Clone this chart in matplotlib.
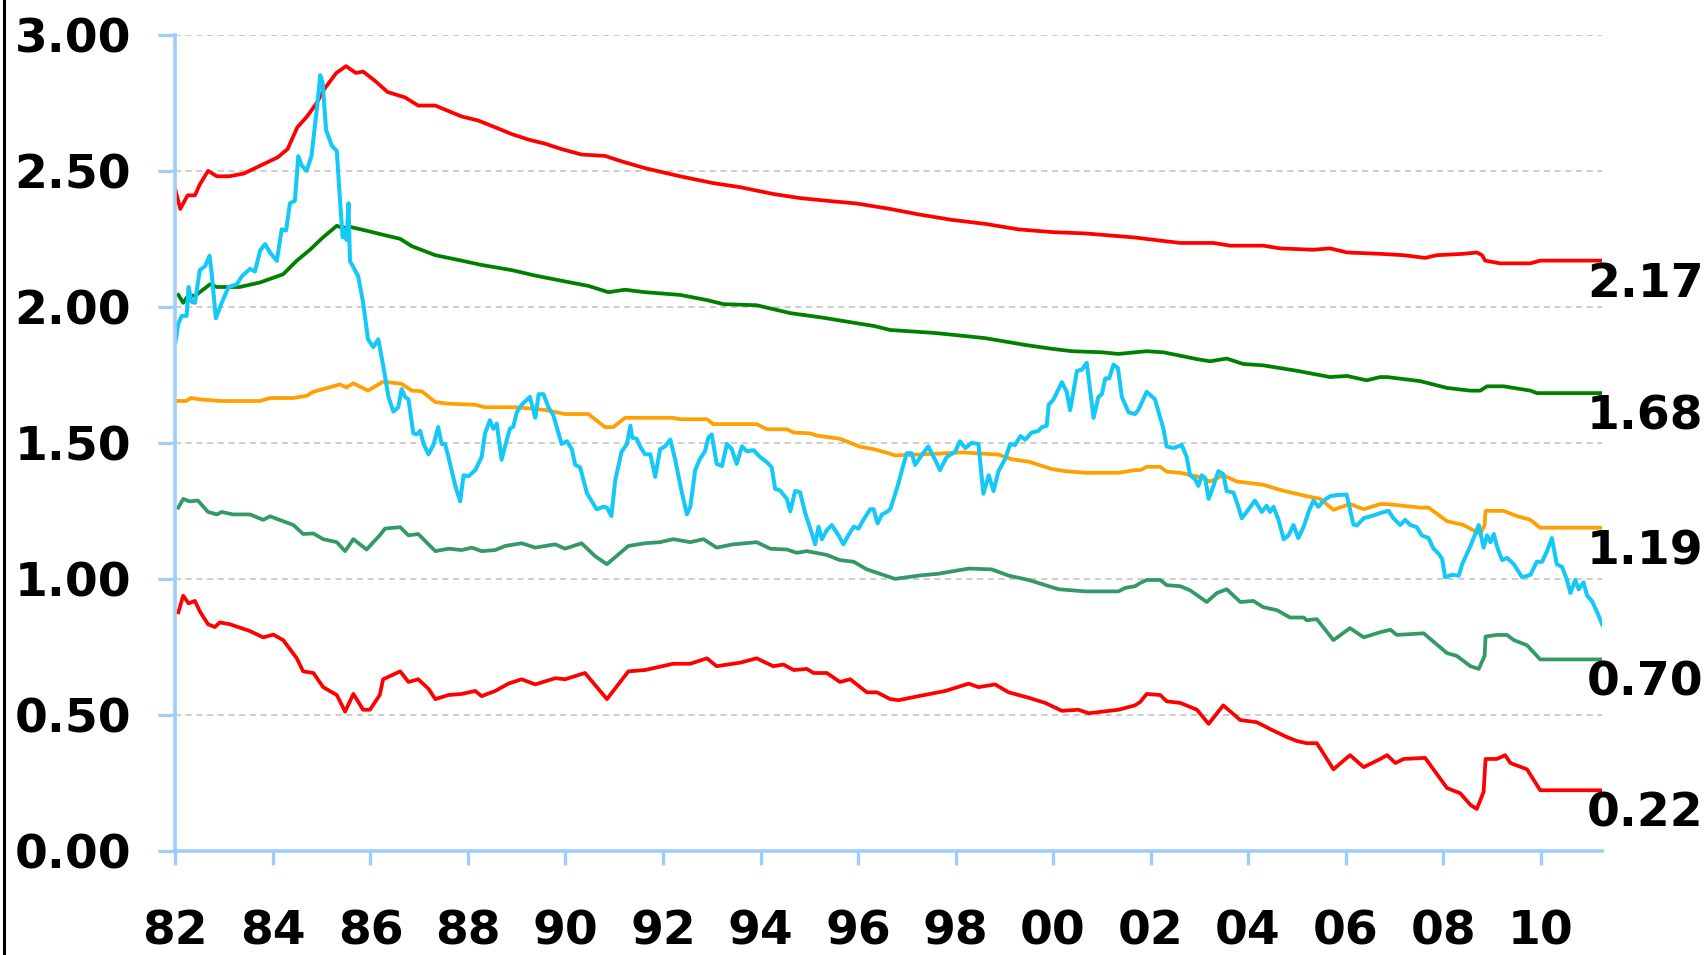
import matplotlib.pyplot as plt

# upper band (+2 sd)
up2_x = [1982.0, 1982.1, 1982.25, 1982.4, 1982.5, 1982.67, 1982.85, 1983.1, 1983.4, 1983.75, 1984.1,
         1984.3, 1984.5, 1984.7, 1984.9, 1985.05, 1985.3, 1985.5, 1985.7, 1985.85, 1986.1, 1986.35,
         1986.71, 1986.98, 1987.33, 1987.6, 1987.87, 1988.21, 1988.56, 1988.9, 1989.24, 1989.58,
         1989.92, 1990.33, 1990.81, 1991.15, 1991.63, 1992.35, 1993.03, 1993.58, 1994.26, 1994.81,
         1995.36, 1995.97, 1996.66, 1997.24, 1997.92, 1998.61, 1999.29, 1999.97, 2000.66, 2001.34,
         2001.68, 2002.13, 2002.61, 2003.29, 2003.63, 2004.31, 2004.66, 2005.34, 2005.68, 2006.03,
         2006.71, 2007.19, 2007.63, 2007.87, 2008.42, 2008.69, 2008.8, 2008.86, 2009.17, 2009.79,
         2009.99, 2011.26]
up2_y = [2.43, 2.36, 2.41, 2.41, 2.45, 2.50, 2.48, 2.48, 2.49, 2.52, 2.55,
         2.58, 2.66, 2.70, 2.75, 2.80, 2.86, 2.885, 2.86, 2.865, 2.83, 2.79,
         2.77, 2.74, 2.74, 2.72, 2.70, 2.685, 2.66, 2.635, 2.615, 2.60,
         2.58, 2.56, 2.555, 2.535, 2.51, 2.48, 2.455, 2.44, 2.415, 2.40,
         2.39, 2.38, 2.36, 2.34, 2.32, 2.305, 2.285, 2.275, 2.27, 2.26,
         2.255, 2.245, 2.235, 2.235, 2.225, 2.225, 2.215, 2.21, 2.215, 2.20,
         2.195, 2.19, 2.18, 2.19, 2.195, 2.20, 2.19, 2.17, 2.16, 2.16,
         2.17, 2.17]

# upper band (+1 sd)
up1_x = [1982.06, 1982.16, 1982.27, 1982.4, 1982.71, 1982.85, 1983.32, 1983.74, 1984.21, 1984.49,
         1984.76, 1985.03, 1985.31, 1985.44, 1985.58, 1985.92, 1986.26, 1986.61, 1986.85, 1987.33,
         1987.87, 1988.28, 1988.9, 1989.38, 1989.92, 1990.47, 1990.88, 1991.22, 1991.63, 1992.35,
         1992.9, 1993.24, 1993.92, 1994.61, 1995.29, 1995.97, 1996.32, 1996.66, 1997.58, 1998.61,
         1999.43, 1999.97, 2000.39, 2001.0, 2001.34, 2001.68, 2001.92, 2002.26, 2002.95, 2003.22,
         2003.56, 2003.9, 2004.31, 2005.0, 2005.68, 2006.03, 2006.43, 2006.71, 2006.85, 2007.53,
         2008.08, 2008.56, 2008.76, 2008.9, 2009.24, 2009.79, 2009.92, 2011.26]
up1_y = [2.044, 2.015, 2.044, 2.04, 2.083, 2.073, 2.073, 2.09, 2.12, 2.17,
         2.21, 2.256, 2.298, 2.29, 2.294, 2.28, 2.265, 2.25, 2.223, 2.19,
         2.17, 2.154, 2.135, 2.115, 2.096, 2.077, 2.054, 2.063, 2.054, 2.044,
         2.025, 2.01, 2.006, 1.977, 1.96, 1.94, 1.93, 1.915, 1.904, 1.885,
         1.86, 1.846, 1.837, 1.833, 1.827, 1.833, 1.837, 1.833, 1.808, 1.80,
         1.81, 1.79, 1.785, 1.765, 1.742, 1.746, 1.73, 1.742, 1.742, 1.727,
         1.702, 1.692, 1.692, 1.708, 1.708, 1.692, 1.683, 1.683]

# mean
mean_x = [1982.0, 1982.22, 1982.32, 1982.5, 1982.92, 1983.74, 1983.94, 1984.42, 1984.69, 1984.83,
          1985.24, 1985.37, 1985.51, 1985.65, 1985.95, 1986.26, 1986.64, 1986.85, 1987.05, 1987.33,
          1987.6, 1988.15, 1988.35, 1988.97, 1989.24, 1989.58, 1989.99, 1990.47, 1990.81, 1990.98,
          1991.22, 1992.21, 1992.35, 1992.9, 1993.03, 1993.92, 1994.13, 1994.54, 1994.68, 1995.02,
          1995.15, 1995.63, 1996.04, 1996.32, 1996.66, 1996.76, 1997.24, 1998.13, 1998.88, 1999.15,
          1999.5, 1999.97, 2000.25, 2000.66, 2001.34, 2001.68, 2001.79, 2001.92, 2002.2, 2002.33,
          2002.61, 2002.95, 2003.22, 2003.49, 2003.77, 2004.31, 2004.66, 2005.2, 2005.48, 2005.75,
          2006.09, 2006.37, 2006.71, 2006.85, 2007.53, 2007.7, 2008.08, 2008.42, 2008.76, 2008.85,
          2008.87, 2009.24, 2009.51, 2009.79, 2009.99, 2011.26]
mean_y = [1.654, 1.654, 1.665, 1.66, 1.654, 1.654, 1.665, 1.665, 1.673, 1.688,
          1.708, 1.715, 1.704, 1.719, 1.692, 1.725, 1.717, 1.692, 1.69, 1.65,
          1.644, 1.64, 1.631, 1.631, 1.627, 1.621, 1.606, 1.606, 1.558, 1.558,
          1.592, 1.592, 1.587, 1.587, 1.569, 1.569, 1.55, 1.55, 1.538, 1.535,
          1.527, 1.515, 1.486, 1.477, 1.46, 1.454, 1.457, 1.465, 1.457, 1.44,
          1.431, 1.404, 1.396, 1.39, 1.39, 1.40, 1.40, 1.412, 1.412, 1.394,
          1.39, 1.377, 1.358, 1.381, 1.358, 1.346, 1.327, 1.304, 1.294, 1.254,
          1.275, 1.256, 1.275, 1.275, 1.262, 1.262, 1.212, 1.198, 1.165, 1.198,
          1.25, 1.25, 1.231, 1.217, 1.188, 1.188]

# lower band (-1 sd)
lo1_x = [1982.06, 1982.16, 1982.29, 1982.46, 1982.67, 1982.85, 1982.95, 1983.18, 1983.53, 1983.8,
         1983.94, 1984.42, 1984.62, 1984.83, 1985.03, 1985.31, 1985.48, 1985.65, 1985.92, 1986.19,
         1986.3, 1986.61, 1986.78, 1986.98, 1987.33, 1987.6, 1987.87, 1988.08, 1988.28, 1988.56,
         1988.76, 1989.1, 1989.38, 1989.79, 1989.99, 1990.33, 1990.61, 1990.85, 1991.29, 1991.63,
         1991.94, 1992.21, 1992.56, 1992.83, 1993.1, 1993.44, 1993.92, 1994.2, 1994.54, 1994.74,
         1994.95, 1995.36, 1995.63, 1995.91, 1996.18, 1996.66, 1996.76, 1997.24, 1997.65, 1998.27,
         1998.74, 1999.09, 1999.5, 2000.11, 2000.66, 2001.34, 2001.48, 2001.68, 2001.79, 2001.92,
         2002.2, 2002.33, 2002.61, 2002.81, 2003.15, 2003.36, 2003.56, 2003.84, 2004.11, 2004.31,
         2004.59, 2004.86, 2005.14, 2005.2, 2005.41, 2005.75, 2006.09, 2006.37, 2006.71, 2006.92,
         2007.05, 2007.6, 2008.08, 2008.28, 2008.56, 2008.73, 2008.85, 2008.87, 2009.1, 2009.31,
         2009.45, 2009.72, 2009.99, 2011.26]
lo1_y = [1.262, 1.294, 1.285, 1.288, 1.246, 1.237, 1.246, 1.237, 1.237, 1.217,
         1.23, 1.198, 1.165, 1.167, 1.146, 1.135, 1.102, 1.146, 1.108, 1.16,
         1.185, 1.19, 1.16, 1.165, 1.102, 1.111, 1.106, 1.115, 1.102, 1.106,
         1.121, 1.131, 1.115, 1.127, 1.111, 1.131, 1.083, 1.054, 1.121, 1.131,
         1.135, 1.146, 1.135, 1.146, 1.115, 1.127, 1.135, 1.111, 1.108, 1.096,
         1.102, 1.088, 1.069, 1.063, 1.035, 1.006, 1.0, 1.012, 1.019, 1.038,
         1.035, 1.012, 0.996, 0.962, 0.954, 0.954, 0.967, 0.973, 0.985, 0.996,
         0.996, 0.977, 0.973, 0.958, 0.915, 0.948, 0.962, 0.915, 0.919, 0.896,
         0.885, 0.858, 0.858, 0.848, 0.852, 0.775, 0.819, 0.785, 0.804, 0.813,
         0.794, 0.8, 0.727, 0.717, 0.679, 0.669, 0.717, 0.788, 0.794, 0.794,
         0.775, 0.756, 0.704, 0.704]

# lower band (-2 sd)
lo2_x = [1982.06, 1982.16, 1982.27, 1982.4, 1982.5, 1982.67, 1982.81, 1982.91, 1983.12, 1983.53,
         1983.8, 1984.01, 1984.21, 1984.49, 1984.62, 1984.83, 1985.03, 1985.31, 1985.48, 1985.65,
         1985.85, 1985.99, 1986.19, 1986.26, 1986.61, 1986.78, 1986.98, 1987.19, 1987.33, 1987.6,
         1987.87, 1988.15, 1988.28, 1988.56, 1988.83, 1989.1, 1989.38, 1989.79, 1989.99, 1990.4,
         1990.85, 1991.29, 1991.63, 1992.21, 1992.56, 1992.9, 1993.1, 1993.58, 1993.92, 1994.26,
         1994.47, 1994.68, 1994.95, 1995.09, 1995.36, 1995.63, 1995.84, 1996.18, 1996.39, 1996.66,
         1996.83, 1997.24, 1997.79, 1998.27, 1998.47, 1998.81, 1999.09, 1999.5, 1999.84, 2000.18,
         2000.52, 2000.73, 2001.34, 2001.68, 2001.79, 2001.92, 2002.2, 2002.33, 2002.61, 2002.95,
         2003.19, 2003.49, 2003.84, 2004.18, 2004.45, 2004.79, 2005.0, 2005.2, 2005.41, 2005.75,
         2006.09, 2006.37, 2006.71, 2006.85, 2007.02, 2007.19, 2007.63, 2008.08, 2008.35, 2008.56,
         2008.69, 2008.83, 2008.87, 2009.1, 2009.27, 2009.38, 2009.72, 2009.99, 2011.26]
lo2_y = [0.877, 0.938, 0.91, 0.919, 0.881, 0.833, 0.823, 0.84, 0.833, 0.808,
         0.785, 0.795, 0.775, 0.708, 0.66, 0.654, 0.602, 0.573, 0.512, 0.577,
         0.519, 0.519, 0.573, 0.631, 0.66, 0.621, 0.631, 0.596, 0.558, 0.573,
         0.577, 0.588, 0.569, 0.588, 0.615, 0.631, 0.612, 0.635, 0.631, 0.654,
         0.558, 0.66, 0.665, 0.688, 0.688, 0.708, 0.679, 0.692, 0.708, 0.679,
         0.685, 0.665, 0.669, 0.654, 0.654, 0.621, 0.631, 0.583, 0.583, 0.558,
         0.554, 0.569, 0.588, 0.615, 0.602, 0.612, 0.583, 0.563, 0.544, 0.515,
         0.519, 0.506, 0.519, 0.535, 0.548, 0.577, 0.573, 0.55, 0.544, 0.519,
         0.467, 0.535, 0.481, 0.473, 0.448, 0.419, 0.404, 0.396, 0.396, 0.30,
         0.352, 0.308, 0.338, 0.352, 0.323, 0.338, 0.342, 0.231, 0.212, 0.169,
         0.154, 0.217, 0.338, 0.338, 0.352, 0.323, 0.30, 0.223, 0.223]

# actual series
act_x = [1982.0, 1982.06, 1982.13, 1982.23, 1982.27, 1982.33, 1982.40, 1982.50, 1982.61, 1982.70,
         1982.74, 1982.83, 1982.95, 1983.09, 1983.26, 1983.36, 1983.53, 1983.63, 1983.74, 1983.84,
         1983.94, 1984.08, 1984.18, 1984.27, 1984.35, 1984.45, 1984.52, 1984.59, 1984.69, 1984.79,
         1984.90, 1984.97, 1985.02, 1985.09, 1985.21, 1985.31, 1985.38, 1985.43, 1985.48, 1985.51,
         1985.55, 1985.58, 1985.75, 1985.85, 1985.95, 1986.06, 1986.16, 1986.26, 1986.37, 1986.47,
         1986.57, 1986.64, 1986.71, 1986.78, 1986.88, 1986.95, 1987.02, 1987.09, 1987.19, 1987.29,
         1987.39, 1987.46, 1987.53, 1987.60, 1987.74, 1987.84, 1987.91, 1988.01, 1988.15, 1988.28,
         1988.35, 1988.45, 1988.52, 1988.59, 1988.69, 1988.76, 1988.86, 1988.93, 1989.00, 1989.10,
         1989.27, 1989.38, 1989.45, 1989.55, 1989.65, 1989.75, 1989.92, 1990.03, 1990.13, 1990.20,
         1990.30, 1990.44, 1990.54, 1990.64, 1990.78, 1990.85, 1990.94, 1991.02, 1991.15, 1991.26,
         1991.33, 1991.37, 1991.46, 1991.53, 1991.63, 1991.74, 1991.84, 1991.94, 1992.04, 1992.15,
         1992.25, 1992.38, 1992.49, 1992.56, 1992.66, 1992.76, 1992.86, 1992.93, 1993.00, 1993.10,
         1993.21, 1993.31, 1993.41, 1993.51, 1993.62, 1993.72, 1993.86, 1993.99, 1994.13, 1994.23,
         1994.30, 1994.40, 1994.54, 1994.61, 1994.71, 1994.81, 1994.91, 1995.05, 1995.12, 1995.19,
         1995.26, 1995.36, 1995.46, 1995.60, 1995.70, 1995.80, 1995.91, 1996.01, 1996.11, 1996.25,
         1996.32, 1996.40, 1996.49, 1996.59, 1996.66, 1996.73, 1996.83, 1996.90, 1997.00, 1997.10,
         1997.17, 1997.31, 1997.44, 1997.58, 1997.68, 1997.82, 1997.99, 1998.09, 1998.20, 1998.33,
         1998.47, 1998.57, 1998.68, 1998.78, 1998.88, 1999.02, 1999.12, 1999.22, 1999.33, 1999.43,
         1999.56, 1999.70, 1999.77, 1999.87, 1999.91, 2000.01, 2000.18, 2000.28, 2000.35, 2000.49,
         2000.59, 2000.69, 2000.83, 2000.93, 2001.00, 2001.07, 2001.15, 2001.24, 2001.33, 2001.41,
         2001.55, 2001.68, 2001.75, 2001.92, 2002.09, 2002.20, 2002.26, 2002.33, 2002.47, 2002.64,
         2002.74, 2002.81, 2002.91, 2002.98, 2003.05, 2003.12, 2003.19, 2003.29, 2003.39, 2003.49,
         2003.56, 2003.70, 2003.80, 2003.87, 2003.97, 2004.14, 2004.28, 2004.38, 2004.45, 2004.52,
         2004.62, 2004.73, 2004.83, 2004.93, 2005.03, 2005.14, 2005.24, 2005.34, 2005.44, 2005.55,
         2005.68, 2005.82, 2006.02, 2006.16, 2006.23, 2006.37, 2006.57, 2006.71, 2006.88, 2006.98,
         2007.12, 2007.22, 2007.33, 2007.46, 2007.56, 2007.70, 2007.80, 2007.91, 2007.98, 2008.04,
         2008.18, 2008.32, 2008.39, 2008.56, 2008.73, 2008.83, 2008.90, 2008.97, 2009.04, 2009.10,
         2009.21, 2009.31, 2009.45, 2009.62, 2009.79, 2009.92, 2010.03, 2010.13, 2010.23, 2010.33,
         2010.44, 2010.54, 2010.61, 2010.71, 2010.78, 2010.88, 2010.95, 2011.05, 2011.15, 2011.26]
act_y = [1.871, 1.938, 1.967, 1.967, 2.073, 2.019, 2.015, 2.135, 2.15, 2.188,
         2.13, 1.958, 2.015, 2.073, 2.083, 2.112, 2.14, 2.13, 2.208, 2.231,
         2.20, 2.169, 2.285, 2.281, 2.381, 2.39, 2.554, 2.52, 2.50, 2.554,
         2.727, 2.852, 2.823, 2.65, 2.592, 2.573, 2.381, 2.256, 2.285, 2.246,
         2.381, 2.169, 2.112, 2.015, 1.881, 1.852, 1.881, 1.785, 1.669, 1.615,
         1.631, 1.698, 1.669, 1.66, 1.535, 1.531, 1.544, 1.496, 1.458, 1.492,
         1.558, 1.496, 1.496, 1.448, 1.342, 1.285, 1.381, 1.377, 1.40, 1.448,
         1.535, 1.583, 1.552, 1.571, 1.438, 1.487, 1.552, 1.56, 1.612, 1.64,
         1.669, 1.592, 1.679, 1.679, 1.631, 1.602, 1.496, 1.506, 1.477, 1.419,
         1.41, 1.315, 1.285, 1.256, 1.265, 1.262, 1.231, 1.362, 1.467, 1.496,
         1.563, 1.519, 1.515, 1.487, 1.458, 1.458, 1.375, 1.477, 1.487, 1.512,
         1.438, 1.323, 1.237, 1.265, 1.40, 1.442, 1.469, 1.519, 1.531, 1.423,
         1.415, 1.496, 1.477, 1.423, 1.487, 1.469, 1.473, 1.448, 1.429, 1.41,
         1.331, 1.325, 1.294, 1.248, 1.323, 1.319, 1.246, 1.169, 1.127, 1.192,
         1.146, 1.179, 1.198, 1.16, 1.127, 1.16, 1.192, 1.185, 1.217, 1.256,
         1.256, 1.204, 1.237, 1.246, 1.256, 1.294, 1.352, 1.40, 1.462, 1.462,
         1.419, 1.456, 1.487, 1.438, 1.40, 1.448, 1.467, 1.506, 1.481, 1.50,
         1.496, 1.313, 1.381, 1.323, 1.396, 1.442, 1.496, 1.492, 1.525, 1.512,
         1.538, 1.544, 1.558, 1.563, 1.64, 1.66, 1.723, 1.688, 1.62, 1.765,
         1.769, 1.794, 1.592, 1.669, 1.679, 1.737, 1.737, 1.788, 1.775, 1.669,
         1.612, 1.606, 1.621, 1.688, 1.66, 1.592, 1.554, 1.487, 1.481, 1.492,
         1.448, 1.381, 1.367, 1.342, 1.381, 1.371, 1.294, 1.342, 1.396, 1.385,
         1.323, 1.317, 1.265, 1.223, 1.246, 1.288, 1.246, 1.269, 1.246, 1.265,
         1.219, 1.146, 1.16, 1.198, 1.15, 1.192, 1.246, 1.288, 1.265, 1.288,
         1.304, 1.308, 1.31, 1.20, 1.196, 1.223, 1.233, 1.242, 1.25,
         1.223, 1.198, 1.217, 1.198, 1.19, 1.16, 1.15, 1.112, 1.092, 1.073,
         1.006, 1.015, 1.012, 1.054, 1.121, 1.198, 1.115, 1.16, 1.135, 1.165,
         1.121, 1.069, 1.077, 1.054, 1.006, 1.015, 1.063, 1.063, 1.102, 1.15,
         1.054, 1.044, 0.996, 0.948, 0.996, 0.962, 0.987, 0.939, 0.919, 0.881, 0.833]

end_labels = ['2.17', '1.68', '1.19', '0.70', '0.22']
year_ticks = list(range(1982, 2011, 2))
year_labels = ['%02d' % (y % 100) for y in year_ticks]
y_ticks = [0, 0.5, 1.0, 1.5, 2.0, 2.5, 3.0]

axis_blue = '#9FCCFA'

fig = plt.figure(figsize=(17.08, 9.55), dpi=100)
ax = fig.add_axes([0.1027, 0.109, 0.8353, 0.8545])

ax.grid(True, axis='y', color='#C0C0C0', linestyle=(0, (4, 3)), linewidth=1.1)
ax.set_axisbelow(True)

series = [
    (up2_x, up2_y, '#FF0000'),
    (up1_x, up1_y, '#008000'),
    (mean_x, mean_y, '#FFA000'),
    (lo1_x, lo1_y, '#339966'),
    (lo2_x, lo2_y, '#FF0000'),
]
for (xs, ys, col), lab in zip(series, end_labels):
    ax.plot(xs, ys, color=col, linewidth=2.7, solid_joinstyle='round')
    ax.annotate(lab, xy=(xs[-1], ys[-1]), xytext=(-11, -1), textcoords='offset points',
                ha='left', va='top', fontsize=34, fontweight='bold', annotation_clip=False)

ax.plot(act_x, act_y, color='#14C8F8', linewidth=2.9, solid_joinstyle='round')

ax.set_xlim(1982, 2011.26)
ax.set_ylim(0, 3)
ax.set_xticks(year_ticks)
ax.set_xticklabels(year_labels)
ax.set_yticks(y_ticks)
ax.set_yticklabels(['%.2f' % v for v in y_ticks])

for side in ['top', 'right']:
    ax.spines[side].set_visible(False)
for side in ['left', 'bottom']:
    ax.spines[side].set_color(axis_blue)
    ax.spines[side].set_linewidth(2.6)

ax.tick_params(axis='y', direction='out', length=12, width=2.4, color=axis_blue, pad=20,
               labelsize=34)
ax.tick_params(axis='x', direction='out', length=10, width=2.4, color=axis_blue, pad=32,
               labelsize=34)
for lbl in ax.get_xticklabels() + ax.get_yticklabels():
    lbl.set_fontweight('bold')

# thin frame edge on the left side of the picture
fig.add_artist(plt.Line2D([0.0025, 0.0025], [0, 1], color='black', linewidth=2.2,
                          transform=fig.transFigure))

fig.savefig('out.png', dpi=100)
